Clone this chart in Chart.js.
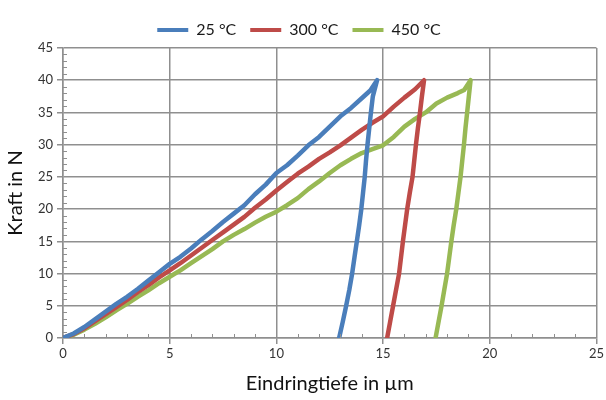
<!DOCTYPE html>
<html>
<head>
<meta charset="utf-8">
<script src="https://cdn.jsdelivr.net/npm/chart.js@4.4.1/dist/chart.umd.min.js"></script>
<style>
  html, body { margin: 0; padding: 0; background: #fff; }
  #wrap { width: 606px; height: 400px; }
</style>
</head>
<body>
<div id="wrap"><canvas id="chart" width="606" height="400"></canvas></div>
<script>
// Eindringtiefe (µm) und Kraft (N): Belastung, danach Entlastung
const depth25 = [0, 0.5, 1, 1.5, 2, 2.5, 3, 3.5, 4, 4.5, 5, 5.5, 6, 6.5, 7, 7.5, 8, 8.5, 9, 9.5, 10, 10.5, 11, 11.5, 12, 12.5, 13, 13.5, 14, 14.4, 14.72,
  14.52, 14.43, 14.35, 14.27, 14.2, 14.14, 14.06, 13.98, 13.88, 13.77, 13.66, 13.55, 13.42, 13.27, 13.11, 12.94];
const force25 = [0, 0.7, 1.7, 2.9, 4.1, 5.3, 6.4, 7.6, 8.9, 10.2, 11.5, 12.6, 13.9, 15.3, 16.6, 18.0, 19.3, 20.6, 22.3, 23.8, 25.6, 26.8, 28.3, 29.9, 31.2, 32.8, 34.4, 35.7, 37.2, 38.4, 40,
  37.5, 35, 32.5, 30, 27.5, 25, 22.5, 20, 17.5, 15, 12.5, 10, 7.5, 5, 2.5, 0];

const depth300 = [0, 0.5, 1, 1.5, 2, 2.5, 3, 3.5, 4, 4.5, 5, 5.5, 6, 6.5, 7, 7.5, 8, 8.5, 9, 9.5, 10, 10.5, 11, 11.5, 12, 12.5, 13, 13.5, 14, 14.5, 15, 15.5, 16, 16.5, 16.92,
  16.82, 16.73, 16.63, 16.54, 16.46, 16.38, 16.25, 16.13, 16.03, 15.93, 15.84, 15.75, 15.61, 15.47, 15.33, 15.19];
const force300 = [0, 0.6, 1.5, 2.6, 3.7, 4.8, 5.9, 7.1, 8.2, 9.4, 10.5, 11.6, 12.8, 14.0, 15.2, 16.4, 17.6, 18.8, 20.2, 21.5, 22.9, 24.2, 25.5, 26.6, 27.8, 28.8, 29.9, 31.1, 32.3, 33.4, 34.4, 35.9, 37.3, 38.6, 40,
  37.5, 35, 32.5, 30, 27.5, 25, 22.5, 20, 17.5, 15, 12.5, 10, 7.5, 5, 2.5, 0];

const depth450 = [0, 0.5, 1, 1.5, 2, 2.5, 3, 3.5, 4, 4.5, 5, 5.5, 6, 6.5, 7, 7.5, 8, 8.5, 9, 9.5, 10, 10.5, 11, 11.5, 12, 12.5, 13, 13.5, 14, 14.5, 15, 15.5, 16, 16.5, 17, 17.5, 18, 18.5, 18.8, 19.1,
  19.02, 18.94, 18.86, 18.79, 18.71, 18.63, 18.53, 18.43, 18.31, 18.2, 18.1, 18.0, 17.87, 17.74, 17.6, 17.46];
const force450 = [0, 0.5, 1.3, 2.2, 3.2, 4.3, 5.3, 6.4, 7.4, 8.5, 9.5, 10.5, 11.6, 12.7, 13.8, 15.0, 16.0, 16.9, 17.9, 18.8, 19.6, 20.6, 21.7, 23.1, 24.3, 25.6, 26.8, 27.8, 28.7, 29.3, 29.9, 31.2, 32.8, 34.0, 35.0, 36.4, 37.3, 38.0, 38.5, 40,
  37.5, 35, 32.5, 30, 27.5, 25, 22.5, 20, 17.5, 15, 12.5, 10, 7.5, 5, 2.5, 0];

const seriesLabels = ['25 °C', '300 °C', '450 °C'];
const seriesColors = ['#4a7ebb', '#be4b48', '#98b954'];

const xTicks = [0, 5, 10, 15, 20, 25];
const yTicks = [0, 5, 10, 15, 20, 25, 30, 35, 40, 45];

const toPoints = (xs, ys) => xs.map((x, i) => ({ x: x, y: ys[i] }));
const allSeries = [toPoints(depth25, force25), toPoints(depth300, force300), toPoints(depth450, force450)];

const gridColor = '#8f8f8f';
const font = 'Lato, "Open Sans", sans-serif';

// kleine Zwischenstriche (1 N / 1 µm) innen an den Achsen
const minorTicks = {
  id: 'minorTicks',
  afterDatasetsDraw(chart) {
    const { ctx, chartArea, scales } = chart;
    ctx.save();
    ctx.strokeStyle = gridColor;
    ctx.lineWidth = 1;
    for (let v = 0; v <= 25; v++) {
      if (v % 5 === 0) continue;
      const px = Math.round(scales.x.getPixelForValue(v)) + 0.5;
      ctx.beginPath();
      ctx.moveTo(px, chartArea.bottom);
      ctx.lineTo(px, chartArea.bottom - 4);
      ctx.stroke();
    }
    for (let v = 0; v <= 45; v++) {
      if (v % 5 === 0) continue;
      const py = Math.round(scales.y.getPixelForValue(v)) + 0.5;
      ctx.beginPath();
      ctx.moveTo(chartArea.left, py);
      ctx.lineTo(chartArea.left + 4, py);
      ctx.stroke();
    }
    ctx.restore();
  }
};

new Chart(document.getElementById('chart'), {
  type: 'scatter',
  data: {
    datasets: allSeries.map((pts, i) => ({
      label: seriesLabels[i],
      data: pts,
      showLine: true,
      borderColor: seriesColors[i],
      backgroundColor: seriesColors[i],
      borderWidth: 4.5,
      pointRadius: 0,
      tension: 0,
      borderJoinStyle: 'round',
      borderCapStyle: 'round'
    }))
  },
  options: {
    responsive: false,
    animation: false,
    layout: { padding: { top: 8, right: 8, bottom: 0, left: 0 } },
    plugins: {
      tooltip: { enabled: false },
      legend: {
        position: 'top',
        labels: {
          color: '#1a1a1a',
          font: { family: font, size: 16 },
          boxWidth: 31,
          boxHeight: 4,
          padding: 14,
          generateLabels(chart) {
            return Chart.defaults.plugins.legend.labels.generateLabels(chart).map((l) => {
              l.lineWidth = 0;
              l.fillStyle = seriesColors[l.datasetIndex];
              return l;
            });
          }
        }
      }
    },
    scales: {
      x: {
        type: 'linear',
        min: 0,
        max: 25,
        afterBuildTicks(scale) { scale.ticks = xTicks.map((v) => ({ value: v })); },
        afterFit(scale) { scale.height = 62; },
        grid: { color: gridColor, lineWidth: 1.5, tickLength: 6, drawTicks: true },
        border: { color: gridColor, width: 1.5 },
        ticks: { color: '#333', font: { family: font, size: 13 }, padding: 2 },
        title: { display: true, text: 'Eindringtiefe in µm', color: '#111', font: { family: font, size: 20 }, padding: { top: 6 } }
      },
      y: {
        type: 'linear',
        min: 0,
        max: 45,
        afterBuildTicks(scale) { scale.ticks = yTicks.map((v) => ({ value: v })); },
        afterFit(scale) { scale.width = 63; },
        grid: { color: gridColor, lineWidth: 1.5, tickLength: 6, drawTicks: true },
        border: { color: gridColor, width: 1.5 },
        ticks: { color: '#333', font: { family: font, size: 13 }, padding: 4 },
        title: { display: true, text: 'Kraft in N', color: '#111', font: { family: font, size: 20 }, padding: { bottom: 2 } }
      }
    }
  },
  plugins: [minorTicks]
});
</script>
</body>
</html>
